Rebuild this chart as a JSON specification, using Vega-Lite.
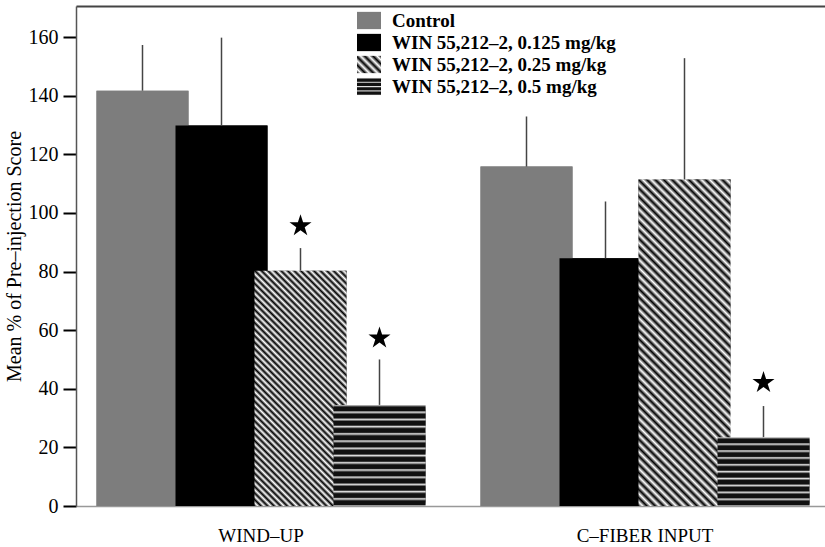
{
"$schema": "https://vega.github.io/schema/vega-lite/v6.json",
"width": 749, "height": 500,
"autosize": {"type": "none"},
"padding": {"left": 76, "top": 6, "right": 0, "bottom": 41},
"background": "white",
"config": {"view": {"stroke": null}, "font": "Liberation Serif",
  "axisY": {"labelFont": "Liberation Serif", "labelFontSize": 20, "labelColor": "#000", "labelPadding": 5,
    "titleFont": "Liberation Serif", "titleFontSize": 20, "titleFontWeight": "normal", "titleColor": "#000", "titlePadding": 4,
    "tickSize": 13, "tickWidth": 2, "tickColor": "#000", "domainColor": "#555", "domainWidth": 1.5, "grid": false}},
"data": {"values": [
 {"group": "WIND–UP", "dose": "Control", "mean": 141.7, "err": 157.3, "star": null},
 {"group": "WIND–UP", "dose": "WIN 55,212–2, 0.125 mg/kg", "mean": 129.8, "err": 159.8, "star": null},
 {"group": "WIND–UP", "dose": "WIN 55,212–2, 0.25 mg/kg", "mean": 80.3, "err": 88.0, "star": 95.6},
 {"group": "WIND–UP", "dose": "WIN 55,212–2, 0.5 mg/kg", "mean": 34.5, "err": 50.0, "star": 57.3},
 {"group": "C–FIBER INPUT", "dose": "Control", "mean": 115.8, "err": 132.9, "star": null},
 {"group": "C–FIBER INPUT", "dose": "WIN 55,212–2, 0.125 mg/kg", "mean": 84.5, "err": 103.9, "star": null},
 {"group": "C–FIBER INPUT", "dose": "WIN 55,212–2, 0.25 mg/kg", "mean": 111.4, "err": 152.8, "star": null},
 {"group": "C–FIBER INPUT", "dose": "WIN 55,212–2, 0.5 mg/kg", "mean": 23.5, "err": 34.1, "star": 42.1}
]},
"layer": [
 {
  "mark": {"type": "bar", "width": 92},
  "encoding": {
   "x": {"field": "group", "type": "nominal", "sort": null,
     "scale": {"paddingInner": 0.1771, "paddingOuter": 0.0638, "align": 0.551},
     "axis": {"orient": "bottom", "title": null, "labelAngle": 0, "ticks": false, "labelFont": "Liberation Serif", "labelFontSize": 19, "labelColor": "#000", "labelPadding": 20, "domainColor": "#999", "domainWidth": 1.5}},
   "xOffset": {"field": "dose", "type": "nominal", "sort": null, "scale": {"paddingInner": 0, "paddingOuter": 0}},
   "y": {"field": "mean", "type": "quantitative", "scale": {"domain": [0, 170.6], "nice": false},
     "axis": {"orient": "left", "title": "Mean % of Pre–injection Score", "values": [0,10,20,30,40,50,60,70,80,90,100,110,120,130,140,150,160],
       "labelExpr": "datum.value % 20 === 0 ? datum.label : ''",
       "tickSize": 13,
       "tickDash": {"condition": {"test": "datum.value % 20 !== 0", "value": [8, 30]}, "value": [20, 0]},
       "tickWidth": 2, "tickColor": "#000", "domainColor": "#555", "domainWidth": 1.5, "grid": false,
       "labelFont": "Liberation Serif", "labelFontSize": 20, "labelColor": "#000", "labelPadding": 5,
       "titleFont": "Liberation Serif", "titleFontSize": 20, "titleFontWeight": "normal", "titleColor": "#000",
       "titlePadding": 4}},
   "color": {"field": "dose", "type": "nominal", "sort": null,
     "scale": {"domain": ["Control", "WIN 55,212–2, 0.125 mg/kg", "WIN 55,212–2, 0.25 mg/kg", "WIN 55,212–2, 0.5 mg/kg"],
       "range": ["#7d7d7d", "#000000",
         {"expr": "{gradient:'linear',x1:0,y1:1,x2:1.1323,y2:0.1836,stops:[{offset:0,color:'#000'},{offset:0.1,color:'#fff'},{offset:0.2,color:'#000'},{offset:0.3,color:'#fff'},{offset:0.4,color:'#000'},{offset:0.5,color:'#fff'},{offset:0.6,color:'#000'},{offset:0.7,color:'#fff'},{offset:0.8,color:'#000'},{offset:0.9,color:'#fff'},{offset:1,color:'#000'}]}"},
         {"expr": "{gradient:'linear',x1:0,y1:0,x2:0,y2:1,stops:[{offset:0,color:'#e0e0e0'},{offset:0.075,color:'#111'},{offset:0.2,color:'#111'},{offset:0.25,color:'#e0e0e0'},{offset:0.325,color:'#111'},{offset:0.45,color:'#111'},{offset:0.5,color:'#e0e0e0'},{offset:0.575,color:'#111'},{offset:0.7,color:'#111'},{offset:0.75,color:'#e0e0e0'},{offset:0.825,color:'#111'},{offset:0.95,color:'#111'},{offset:1,color:'#e0e0e0'}]}"}
       ]},
     "legend": {"orient": "none", "legendX": 281, "legendY": 2.5, "title": null, "symbolType": "M-1,-0.72H1V0.72H-1Z", "symbolSize": 576, "symbolStrokeWidth": 0, "labelFont": "Liberation Serif", "labelFontSize": 19, "labelFontWeight": "bold", "labelColor": "#000", "labelOffset": 11, "labelLimit": 0, "rowPadding": 0, "padding": 0}}
  }
 },
 {
  "mark": {"type": "bar", "width": 92},
  "encoding": {
   "x": {"field": "group", "type": "nominal", "sort": null, "axis": null},
   "xOffset": {"field": "dose", "type": "nominal", "sort": null},
   "y": {"field": "mean", "type": "quantitative"},
   "fill": {"condition": [
     {"test": "datum.dose === 'Control'", "value": "#7d7d7d"},
     {"test": "datum.dose === 'WIN 55,212–2, 0.125 mg/kg'", "value": "#000000"},
     {"test": "datum.dose === 'WIN 55,212–2, 0.25 mg/kg' && datum.group === 'WIND–UP'", "value": {"gradient": "linear", "x1": 0, "y1": 1, "x2": 0.4717, "y2": -0.2065, "stops": [
{"offset":0,"color":"#000"},{"offset":0.01,"color":"#fff"},{"offset":0.02,"color":"#000"},{"offset":0.03,"color":"#fff"},{"offset":0.04,"color":"#000"},{"offset":0.05,"color":"#fff"},{"offset":0.06,"color":"#000"},{"offset":0.07,"color":"#fff"},{"offset":0.08,"color":"#000"},{"offset":0.09,"color":"#fff"},
{"offset":0.1,"color":"#000"},{"offset":0.11,"color":"#fff"},{"offset":0.12,"color":"#000"},{"offset":0.13,"color":"#fff"},{"offset":0.14,"color":"#000"},{"offset":0.15,"color":"#fff"},{"offset":0.16,"color":"#000"},{"offset":0.17,"color":"#fff"},{"offset":0.18,"color":"#000"},{"offset":0.19,"color":"#fff"},
{"offset":0.2,"color":"#000"},{"offset":0.21,"color":"#fff"},{"offset":0.22,"color":"#000"},{"offset":0.23,"color":"#fff"},{"offset":0.24,"color":"#000"},{"offset":0.25,"color":"#fff"},{"offset":0.26,"color":"#000"},{"offset":0.27,"color":"#fff"},{"offset":0.28,"color":"#000"},{"offset":0.29,"color":"#fff"},
{"offset":0.3,"color":"#000"},{"offset":0.31,"color":"#fff"},{"offset":0.32,"color":"#000"},{"offset":0.33,"color":"#fff"},{"offset":0.34,"color":"#000"},{"offset":0.35,"color":"#fff"},{"offset":0.36,"color":"#000"},{"offset":0.37,"color":"#fff"},{"offset":0.38,"color":"#000"},{"offset":0.39,"color":"#fff"},
{"offset":0.4,"color":"#000"},{"offset":0.41,"color":"#fff"},{"offset":0.42,"color":"#000"},{"offset":0.43,"color":"#fff"},{"offset":0.44,"color":"#000"},{"offset":0.45,"color":"#fff"},{"offset":0.46,"color":"#000"},{"offset":0.47,"color":"#fff"},{"offset":0.48,"color":"#000"},{"offset":0.49,"color":"#fff"},
{"offset":0.5,"color":"#000"},{"offset":0.51,"color":"#fff"},{"offset":0.52,"color":"#000"},{"offset":0.53,"color":"#fff"},{"offset":0.54,"color":"#000"},{"offset":0.55,"color":"#fff"},{"offset":0.56,"color":"#000"},{"offset":0.57,"color":"#fff"},{"offset":0.58,"color":"#000"},{"offset":0.59,"color":"#fff"},
{"offset":0.6,"color":"#000"},{"offset":0.61,"color":"#fff"},{"offset":0.62,"color":"#000"},{"offset":0.63,"color":"#fff"},{"offset":0.64,"color":"#000"},{"offset":0.65,"color":"#fff"},{"offset":0.66,"color":"#000"},{"offset":0.67,"color":"#fff"},{"offset":0.68,"color":"#000"},{"offset":0.69,"color":"#fff"},
{"offset":0.7,"color":"#000"},{"offset":0.71,"color":"#fff"},{"offset":0.72,"color":"#000"},{"offset":0.73,"color":"#fff"},{"offset":0.74,"color":"#000"},{"offset":0.75,"color":"#fff"},{"offset":0.76,"color":"#000"},{"offset":0.77,"color":"#fff"},{"offset":0.78,"color":"#000"},{"offset":0.79,"color":"#fff"},
{"offset":0.8,"color":"#000"},{"offset":0.81,"color":"#fff"},{"offset":0.82,"color":"#000"},{"offset":0.83,"color":"#fff"},{"offset":0.84,"color":"#000"},{"offset":0.85,"color":"#fff"},{"offset":0.86,"color":"#000"},{"offset":0.87,"color":"#fff"},{"offset":0.88,"color":"#000"},{"offset":0.89,"color":"#fff"},
{"offset":0.9,"color":"#000"},{"offset":0.91,"color":"#fff"},{"offset":0.92,"color":"#000"},{"offset":0.93,"color":"#fff"},{"offset":0.94,"color":"#000"},{"offset":0.95,"color":"#fff"},{"offset":0.96,"color":"#000"},{"offset":0.97,"color":"#fff"},{"offset":0.98,"color":"#000"},{"offset":0.99,"color":"#fff"},
{"offset":1,"color":"#000"}]}},
     {"test": "datum.dose === 'WIN 55,212–2, 0.25 mg/kg'", "value": {"gradient": "linear", "x1": 0, "y1": 1, "x2": 0.3344, "y2": -0.1874, "stops": [
{"offset":0,"color":"#000"},{"offset":0.01,"color":"#fff"},{"offset":0.02,"color":"#000"},{"offset":0.03,"color":"#fff"},{"offset":0.04,"color":"#000"},{"offset":0.05,"color":"#fff"},{"offset":0.06,"color":"#000"},{"offset":0.07,"color":"#fff"},{"offset":0.08,"color":"#000"},{"offset":0.09,"color":"#fff"},
{"offset":0.1,"color":"#000"},{"offset":0.11,"color":"#fff"},{"offset":0.12,"color":"#000"},{"offset":0.13,"color":"#fff"},{"offset":0.14,"color":"#000"},{"offset":0.15,"color":"#fff"},{"offset":0.16,"color":"#000"},{"offset":0.17,"color":"#fff"},{"offset":0.18,"color":"#000"},{"offset":0.19,"color":"#fff"},
{"offset":0.2,"color":"#000"},{"offset":0.21,"color":"#fff"},{"offset":0.22,"color":"#000"},{"offset":0.23,"color":"#fff"},{"offset":0.24,"color":"#000"},{"offset":0.25,"color":"#fff"},{"offset":0.26,"color":"#000"},{"offset":0.27,"color":"#fff"},{"offset":0.28,"color":"#000"},{"offset":0.29,"color":"#fff"},
{"offset":0.3,"color":"#000"},{"offset":0.31,"color":"#fff"},{"offset":0.32,"color":"#000"},{"offset":0.33,"color":"#fff"},{"offset":0.34,"color":"#000"},{"offset":0.35,"color":"#fff"},{"offset":0.36,"color":"#000"},{"offset":0.37,"color":"#fff"},{"offset":0.38,"color":"#000"},{"offset":0.39,"color":"#fff"},
{"offset":0.4,"color":"#000"},{"offset":0.41,"color":"#fff"},{"offset":0.42,"color":"#000"},{"offset":0.43,"color":"#fff"},{"offset":0.44,"color":"#000"},{"offset":0.45,"color":"#fff"},{"offset":0.46,"color":"#000"},{"offset":0.47,"color":"#fff"},{"offset":0.48,"color":"#000"},{"offset":0.49,"color":"#fff"},
{"offset":0.5,"color":"#000"},{"offset":0.51,"color":"#fff"},{"offset":0.52,"color":"#000"},{"offset":0.53,"color":"#fff"},{"offset":0.54,"color":"#000"},{"offset":0.55,"color":"#fff"},{"offset":0.56,"color":"#000"},{"offset":0.57,"color":"#fff"},{"offset":0.58,"color":"#000"},{"offset":0.59,"color":"#fff"},
{"offset":0.6,"color":"#000"},{"offset":0.61,"color":"#fff"},{"offset":0.62,"color":"#000"},{"offset":0.63,"color":"#fff"},{"offset":0.64,"color":"#000"},{"offset":0.65,"color":"#fff"},{"offset":0.66,"color":"#000"},{"offset":0.67,"color":"#fff"},{"offset":0.68,"color":"#000"},{"offset":0.69,"color":"#fff"},
{"offset":0.7,"color":"#000"},{"offset":0.71,"color":"#fff"},{"offset":0.72,"color":"#000"},{"offset":0.73,"color":"#fff"},{"offset":0.74,"color":"#000"},{"offset":0.75,"color":"#fff"},{"offset":0.76,"color":"#000"},{"offset":0.77,"color":"#fff"},{"offset":0.78,"color":"#000"},{"offset":0.79,"color":"#fff"},
{"offset":0.8,"color":"#000"},{"offset":0.81,"color":"#fff"},{"offset":0.82,"color":"#000"},{"offset":0.83,"color":"#fff"},{"offset":0.84,"color":"#000"},{"offset":0.85,"color":"#fff"},{"offset":0.86,"color":"#000"},{"offset":0.87,"color":"#fff"},{"offset":0.88,"color":"#000"},{"offset":0.89,"color":"#fff"},
{"offset":0.9,"color":"#000"},{"offset":0.91,"color":"#fff"},{"offset":0.92,"color":"#000"},{"offset":0.93,"color":"#fff"},{"offset":0.94,"color":"#000"},{"offset":0.95,"color":"#fff"},{"offset":0.96,"color":"#000"},{"offset":0.97,"color":"#fff"},{"offset":0.98,"color":"#000"},{"offset":0.99,"color":"#fff"},
{"offset":1,"color":"#000"}]}},
     {"test": "datum.group === 'WIND–UP'", "value": {"gradient": "linear", "x1": 0, "y1": 0, "x2": 0, "y2": 1, "stops": [
{"offset":0,"color":"#e0e0e0"},{"offset":0.0214,"color":"#111"},{"offset":0.0571,"color":"#111"},
{"offset":0.0714,"color":"#e0e0e0"},{"offset":0.0929,"color":"#111"},{"offset":0.1286,"color":"#111"},
{"offset":0.1429,"color":"#e0e0e0"},{"offset":0.1643,"color":"#111"},{"offset":0.2,"color":"#111"},
{"offset":0.2143,"color":"#e0e0e0"},{"offset":0.2357,"color":"#111"},{"offset":0.2714,"color":"#111"},
{"offset":0.2857,"color":"#e0e0e0"},{"offset":0.3071,"color":"#111"},{"offset":0.3429,"color":"#111"},
{"offset":0.3571,"color":"#e0e0e0"},{"offset":0.3786,"color":"#111"},{"offset":0.4143,"color":"#111"},
{"offset":0.4286,"color":"#e0e0e0"},{"offset":0.45,"color":"#111"},{"offset":0.4857,"color":"#111"},
{"offset":0.5,"color":"#e0e0e0"},{"offset":0.5214,"color":"#111"},{"offset":0.5571,"color":"#111"},
{"offset":0.5714,"color":"#e0e0e0"},{"offset":0.5929,"color":"#111"},{"offset":0.6286,"color":"#111"},
{"offset":0.6429,"color":"#e0e0e0"},{"offset":0.6643,"color":"#111"},{"offset":0.7,"color":"#111"},
{"offset":0.7143,"color":"#e0e0e0"},{"offset":0.7357,"color":"#111"},{"offset":0.7714,"color":"#111"},
{"offset":0.7857,"color":"#e0e0e0"},{"offset":0.8071,"color":"#111"},{"offset":0.8429,"color":"#111"},
{"offset":0.8571,"color":"#e0e0e0"},{"offset":0.8786,"color":"#111"},{"offset":0.9143,"color":"#111"},
{"offset":0.9286,"color":"#e0e0e0"},{"offset":0.95,"color":"#111"},{"offset":0.9857,"color":"#111"},
{"offset":1,"color":"#e0e0e0"}]}}
   ],
   "value": {"gradient": "linear", "x1": 0, "y1": 0, "x2": 0, "y2": 1, "stops": [
{"offset":0,"color":"#e0e0e0"},{"offset":0.03,"color":"#111"},{"offset":0.08,"color":"#111"},
{"offset":0.1,"color":"#e0e0e0"},{"offset":0.13,"color":"#111"},{"offset":0.18,"color":"#111"},
{"offset":0.2,"color":"#e0e0e0"},{"offset":0.23,"color":"#111"},{"offset":0.28,"color":"#111"},
{"offset":0.3,"color":"#e0e0e0"},{"offset":0.33,"color":"#111"},{"offset":0.38,"color":"#111"},
{"offset":0.4,"color":"#e0e0e0"},{"offset":0.43,"color":"#111"},{"offset":0.48,"color":"#111"},
{"offset":0.5,"color":"#e0e0e0"},{"offset":0.53,"color":"#111"},{"offset":0.58,"color":"#111"},
{"offset":0.6,"color":"#e0e0e0"},{"offset":0.63,"color":"#111"},{"offset":0.68,"color":"#111"},
{"offset":0.7,"color":"#e0e0e0"},{"offset":0.73,"color":"#111"},{"offset":0.78,"color":"#111"},
{"offset":0.8,"color":"#e0e0e0"},{"offset":0.83,"color":"#111"},{"offset":0.88,"color":"#111"},
{"offset":0.9,"color":"#e0e0e0"},{"offset":0.93,"color":"#111"},{"offset":0.98,"color":"#111"},
{"offset":1,"color":"#e0e0e0"}]}}
  }
 },
 {
  "mark": {"type": "rule", "color": "#444", "strokeWidth": 1.5},
  "encoding": {
   "x": {"field": "group", "type": "nominal", "sort": null,
     "axis": {"orient": "top", "labels": false, "ticks": false, "title": null, "domainColor": "#444", "domainWidth": 2}},
   "xOffset": {"field": "dose", "type": "nominal", "sort": null},
   "y": {"field": "mean", "type": "quantitative"},
   "y2": {"field": "err"}
  }
 },
 {
  "transform": [{"filter": "datum.star != null"}],
  "mark": {"type": "point", "shape": "M0,-1L0.2245,-0.309L0.9511,-0.309L0.3633,0.118L0.5878,0.809L0,0.382L-0.5878,0.809L-0.3633,0.118L-0.9511,-0.309L-0.2245,-0.309Z", "filled": true, "color": "#000", "size": 538, "opacity": 1},
  "encoding": {
   "x": {"field": "group", "type": "nominal", "sort": null, "axis": null},
   "xOffset": {"field": "dose", "type": "nominal", "sort": null},
   "y": {"field": "star", "type": "quantitative"}
  }
 }
]
}
